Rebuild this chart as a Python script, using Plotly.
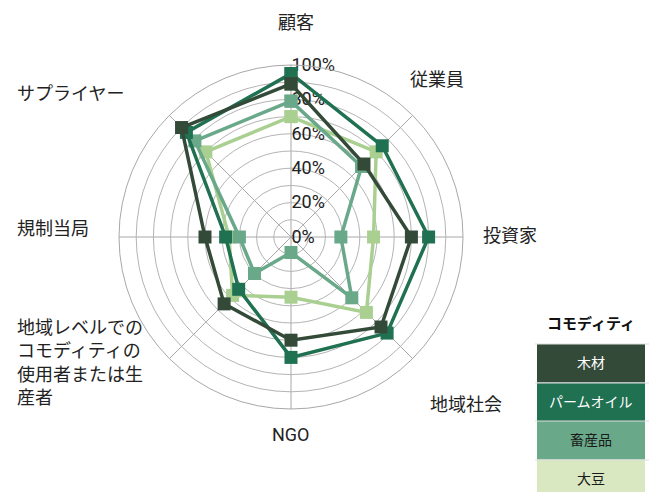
import plotly.graph_objects as go

# ---- data ----
categories = ["顧客", "従業員", "投資家", "地域社会", "NGO", "地域生産者", "規制当局", "サプライヤー"]
category_labels = ["顧客", "従業員", "投資家", "地域社会", "NGO",
                   "地域レベルでの<br>コモディティの<br>使用者または生<br>産者",
                   "規制当局", "サプライヤー"]
series_names = ["木材", "パームオイル", "畜産品", "大豆"]
wood = [89, 60, 70, 74, 60, 55, 50, 90]
palm = [95, 75, 80, 79, 70, 43, 38, 86]
livestock = [79, 58, 29, 50, 9, 30, 30, 79]
soy = [70, 70, 48, 62, 35, 48, 36, 70]
radial_ticks = [0, 10, 20, 30, 40, 50, 60, 70, 80, 90, 100]
radial_ticktext = ["0%", "", "20%", "", "40%", "", "60%", "", "80%", "", "100%"]

line_colors = ["#344a38", "#207052", "#6aa88a", "#aad091"]
box_colors = ["#344a38", "#207052", "#6aa88a", "#d9e8c1"]
box_text_colors = ["#ffffff", "#ffffff", "#1a1a1a", "#1a1a1a"]

# page body has an 8px margin; work in window pixels and shift
OFF = 8
W, H = 657 - OFF, 492 - OFF
FONT = "Roboto, 'Noto Sans CJK JP', sans-serif"


def px(x):
    return (x - OFF) / W


def py(y):
    return 1 - (y - OFF) / H


fig = go.Figure()
all_vals = [wood, palm, livestock, soy]
# draw soy first so wood is on top
for i in [3, 2, 1, 0]:
    vals = all_vals[i]
    fig.add_trace(go.Scatterpolar(
        r=vals + vals[:1],
        theta=categories + categories[:1],
        mode="lines+markers",
        name=series_names[i],
        line=dict(color=line_colors[i], width=3.5),
        marker=dict(symbol="square", size=13, color=line_colors[i]),
        showlegend=False,
    ))

cx, cy, R = 291, 237, 172
fig.update_layout(
    width=W, height=H,
    margin=dict(l=0, r=0, t=0, b=0),
    paper_bgcolor="white",
    plot_bgcolor="white",
    font=dict(family=FONT, color="#222222"),
    polar=dict(
        domain=dict(x=[px(cx - R), px(cx + R)], y=[py(cy + R), py(cy - R)]),
        bgcolor="white",
        angularaxis=dict(
            rotation=90, direction="clockwise",
            showticklabels=False, ticks="",
            showline=True, linecolor="#a8a8a8", linewidth=1,
            gridcolor="#a8a8a8", gridwidth=1,
        ),
        radialaxis=dict(
            range=[0, 100], angle=90, tickangle=90,
            tickvals=radial_ticks, ticktext=radial_ticktext,
            showline=False, ticks="",
            gridcolor="#b4b4b4", gridwidth=1,
            tickfont=dict(size=18, color="#222222", family=FONT),
            side="clockwise",
            layer="below traces",
        ),
    ),
)

# category labels (window pixel positions converted to paper coords)
label_pos = [
    (296, 22, "center"), (437, 80, "center"), (510, 235, "center"), (466, 404, "center"),
    (291, 434, "center"), (15, 362, "left"), (15, 228, "left"), (15, 94, "left"),
]
for (x, y, anchor), text in zip(label_pos, category_labels):
    fig.add_annotation(
        x=px(x), y=py(y), xref="paper", yref="paper",
        text=text, showarrow=False, xanchor=anchor, yanchor="middle",
        align="left", font=dict(size=18, color="#222222", family=FONT),
    )

# custom legend table
lx0, lx1 = 537, 645
row_tops = [344, 383, 421, 460]
row_h = 38.5
fig.add_annotation(
    x=px(591), y=py(324), xref="paper", yref="paper",
    text="<b>コモディティ</b>", showarrow=False, xanchor="center", yanchor="middle",
    font=dict(size=15, color="#111111", family=FONT),
)
for i, name in enumerate(series_names):
    y0 = row_tops[i]
    y1 = y0 + row_h
    fig.add_shape(type="rect", xref="paper", yref="paper",
                  x0=px(lx0), x1=px(lx1), y0=py(y1), y1=py(y0),
                  fillcolor=box_colors[i], line=dict(width=0), layer="below")
    fig.add_shape(type="line", xref="paper", yref="paper",
                  x0=px(lx0 - 2), x1=px(lx1 + 5), y0=py(y0), y1=py(y0),
                  line=dict(color="#dddddd", width=1), layer="below")
    fig.add_annotation(
        x=px(591), y=py(y0 + row_h / 2), xref="paper", yref="paper",
        text=name, showarrow=False, xanchor="center", yanchor="middle",
        font=dict(size=14, color=box_text_colors[i], family=FONT),
    )

fig.write_html("out.html")
